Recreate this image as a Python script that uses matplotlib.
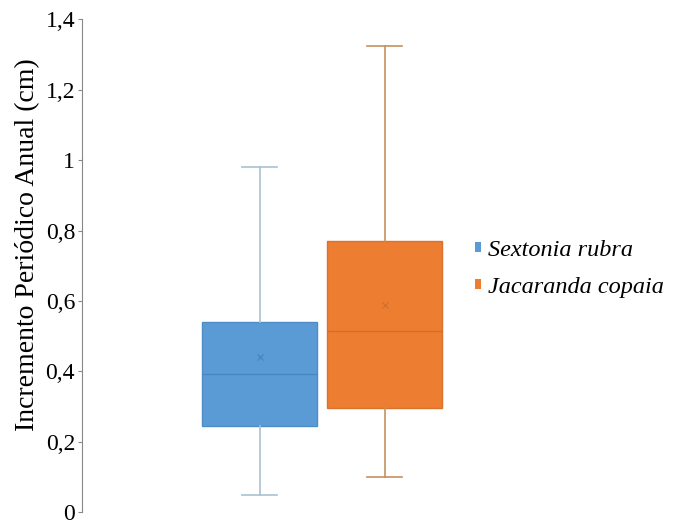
import matplotlib
matplotlib.use("Agg")
import matplotlib.pyplot as plt
from matplotlib.patches import Patch
from matplotlib.ticker import FuncFormatter

plt.rcParams["font.family"] = ["Liberation Serif", "DejaVu Serif"]

SPECIES = ["Sextonia rubra", "Jacaranda copaia"]
WHIS_LO = [0.050, 0.099]
Q1 = [0.245, 0.295]
MEDIAN = [0.393, 0.514]
Q3 = [0.540, 0.770]
WHIS_HI = [0.981, 1.324]
MEAN = [0.442, 0.588]

FILL = ["#5B9BD5", "#ED7D31"]
EDGE = ["#4F8CC6", "#D9722C"]
WHISK = ["#A9C1D1", "#C4915F"]
MED = ["#4A84BD", "#D46F2A"]

fig = plt.figure(figsize=(6.87, 5.2), dpi=100)
ax = fig.add_axes([82 / 687, 1 - 512.3 / 520, (460 - 82) / 687, (512.3 - 19.3) / 520])

for i, name in enumerate(SPECIES):
    stats = [{
        "label": name,
        "whislo": WHIS_LO[i], "q1": Q1[i], "med": MEDIAN[i],
        "q3": Q3[i], "whishi": WHIS_HI[i], "mean": MEAN[i], "fliers": [],
    }]
    ax.bxp(stats, positions=[i + 1], widths=0.92, patch_artist=True,
           showmeans=True, showfliers=False,
           boxprops=dict(facecolor=FILL[i], edgecolor=EDGE[i], linewidth=1),
           medianprops=dict(color=MED[i], linewidth=1),
           whiskerprops=dict(color=WHISK[i], linewidth=1.2),
           capprops=dict(color=WHISK[i], linewidth=1.2),
           capwidths=0.28,
           meanprops=dict(marker="x", markeredgecolor=MED[i], markersize=5,
                          markeredgewidth=0.9))

ax.set_xlim(-0.4224, 2 + (460 - 384.7) / 125)
ax.set_ylim(0, 1.4)
ax.set_yticks([0, 0.2, 0.4, 0.6, 0.8, 1.0, 1.2, 1.4])
ax.yaxis.set_major_formatter(FuncFormatter(lambda v, p: f"{v:g}".replace(".", ",")))
ax.set_xticks([])
for s in ["top", "right", "bottom"]:
    ax.spines[s].set_visible(False)
ax.spines["left"].set_color("#888888")
ax.tick_params(axis="y", length=3, color="#888888", labelsize=17, pad=2)
ax.set_ylabel("Incremento Periódico Anual (cm)", fontsize=20)
ax.yaxis.set_label_coords(-0.112, 0.542)

handles = [Patch(facecolor=FILL[i], edgecolor="none", label=SPECIES[i]) for i in range(2)]
fig.legend(handles=handles, loc="upper left", bbox_to_anchor=(475 / 687, 1 - 240 / 520),
           frameon=False, prop=dict(family="Liberation Serif", style="italic", size=17.5),
           handlelength=0.25, handleheight=0.25, handletextpad=0.3, labelspacing=0.65,
           borderpad=0, borderaxespad=0)

fig.savefig("out.png", dpi=100)
